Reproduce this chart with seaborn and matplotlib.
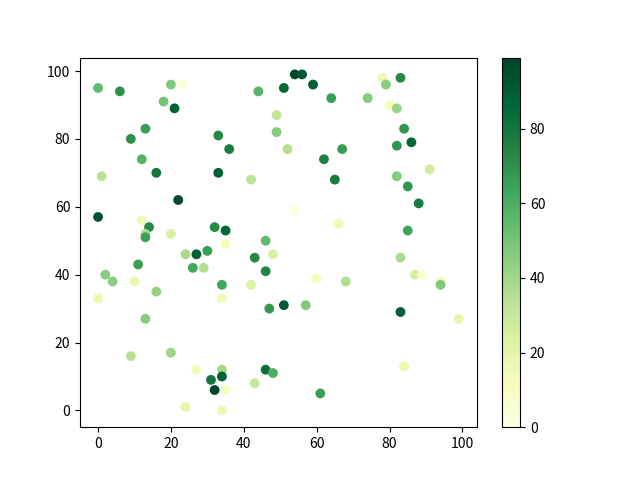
import matplotlib
matplotlib.use("Agg")
import matplotlib.pyplot as plt
import seaborn as sns
import pandas as pd

plt.rcParams['font.family'] = ['Noto Sans CJK SC', 'DejaVu Sans']
plt.rcParams['axes.unicode_minus'] = False

# values
x_vals = [0, 6, 20, 23, 18, 21, 44, 49, 49, 13, 9, 33, 36, 12, 16, 1, 33, 42, 22, 0,
          12, 14, 32, 35, 20, 13, 13,
          54, 56, 51, 59, 64, 74, 78, 79, 83, 80, 82, 84, 86, 82, 52, 67, 62, 91, 65,
          82, 85, 88, 54, 66, 85,
          35, 46, 24, 27, 30, 48, 43, 11, 26, 29, 46, 2, 4, 10, 34, 42, 16, 0, 34, 47,
          13, 9, 20, 27, 34, 46, 48, 31, 34, 32, 35, 43, 24, 34,
          60, 68, 51, 57, 83, 87, 89, 94, 94, 83, 99, 84, 61]
y_vals = [95, 94, 96, 96, 91, 89, 94, 87, 82, 83, 80, 81, 77, 74, 70, 69, 70, 68, 62, 57,
          56, 54, 54, 53, 52, 52, 51,
          99, 99, 95, 96, 92, 92, 98, 96, 98, 90, 89, 83, 79, 78, 77, 77, 74, 71, 68,
          69, 66, 61, 59, 55, 53,
          49, 50, 46, 46, 47, 46, 45, 43, 42, 42, 41, 40, 38, 38, 37, 37, 35, 33, 33, 30,
          27, 16, 17, 12, 12, 12, 11, 9, 10, 6, 6, 8, 1, 0,
          39, 38, 31, 31, 45, 40, 40, 38, 37, 29, 27, 13, 5]
c_vals = [55, 70, 48, 5, 50, 88, 57, 32, 47, 66, 70, 72, 77, 58, 80, 33, 90, 33, 97, 93,
          15, 73, 72, 87, 25, 38, 65,
          98, 92, 87, 90, 65, 47, 17, 46, 73, 13, 42, 68, 87, 69, 35, 66, 76, 28, 78,
          47, 68, 78, 3, 16, 64,
          13, 55, 38, 89, 66, 25, 73, 66, 62, 35, 74, 46, 45, 18, 63, 24, 43, 17, 15, 68,
          46, 35, 41, 13, 40, 83, 60, 80, 89, 98, 11, 31, 19, 17,
          11, 36, 92, 48, 38, 26, 6, 14, 48, 89, 19, 17, 66]

df = pd.DataFrame({'x': x_vals, 'y': y_vals, 'c': c_vals})
c_min, c_max = 0, 99

fig, ax = plt.subplots(figsize=(6.4, 4.8), dpi=100)
sns.scatterplot(data=df, x='x', y='y', hue='c', palette='YlGn',
                hue_norm=(c_min, c_max), legend=False, s=50, linewidth=0, ax=ax)
ax.set_xlabel('')
ax.set_ylabel('')
ax.set_xticks([0, 20, 40, 60, 80, 100])
ax.set_yticks([0, 20, 40, 60, 80, 100])

sm = plt.cm.ScalarMappable(cmap='YlGn', norm=plt.Normalize(c_min, c_max))
fig.colorbar(sm, ax=ax)

fig.savefig('out.png')
